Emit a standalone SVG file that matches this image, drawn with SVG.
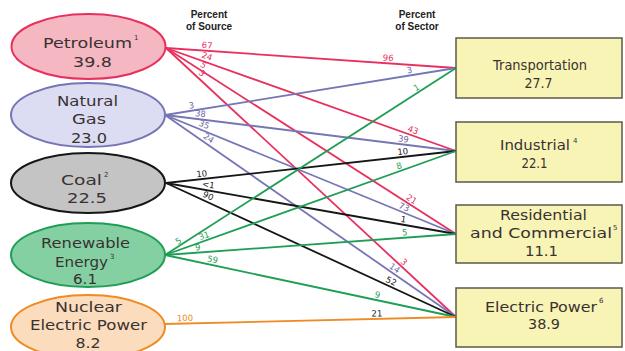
<svg xmlns="http://www.w3.org/2000/svg" width="625" height="351" viewBox="0 0 625 351">
<style>
.hdr{font-family:"Liberation Sans",Arial,sans-serif;font-weight:bold;font-size:10px;fill:#222;text-anchor:middle}
.nt{font-family:"DejaVu Sans","Liberation Sans",sans-serif;font-size:14px;fill:#3a3232;text-anchor:middle}
.sup{font-family:"DejaVu Sans","Liberation Sans",sans-serif;font-size:7px;fill:#3a3232}
.lb{font-family:"DejaVu Sans","Liberation Sans",sans-serif;font-size:8.5px;text-anchor:middle}
.ln{fill:none;stroke-width:1.8}
.red{stroke:#e8305e}.pur{stroke:#7676b6}.blk{stroke:#161616}.grn{stroke:#1f9e55}.org{stroke:#f08a24}
.tred{fill:#e8305e}.tpur{fill:#6a6aa8}.tblk{fill:#161616}.tgrn{fill:#1f9e55}.torg{fill:#f08a24}
.box{fill:#f8f4b6;stroke:#5a5a4a;stroke-width:1.5}
</style>
<rect width="625" height="351" fill="#ffffff"/>
<g id="headers">
<text class="hdr" x="209" y="18">Percent</text>
<text class="hdr" x="209" y="30">of Source</text>
<text class="hdr" x="417" y="18">Percent</text>
<text class="hdr" x="417" y="30">of Sector</text>
</g>
<g id="connectors">
<line class="ln red" x1="166" y1="48" x2="456" y2="68"/>
<line class="ln red" x1="166" y1="48" x2="456" y2="151"/>
<line class="ln red" x1="166" y1="48" x2="456" y2="234"/>
<line class="ln red" x1="166" y1="48" x2="456" y2="317"/>
<line class="ln pur" x1="165" y1="115" x2="456" y2="68"/>
<line class="ln pur" x1="165" y1="115" x2="456" y2="151"/>
<line class="ln pur" x1="165" y1="115" x2="456" y2="234"/>
<line class="ln pur" x1="165" y1="115" x2="456" y2="317"/>
<line class="ln blk" x1="166" y1="183" x2="456" y2="151"/>
<line class="ln blk" x1="166" y1="183" x2="456" y2="234"/>
<line class="ln blk" x1="166" y1="183" x2="456" y2="317"/>
<line class="ln grn" x1="165" y1="255" x2="456" y2="68"/>
<line class="ln grn" x1="165" y1="255" x2="456" y2="151"/>
<line class="ln grn" x1="165" y1="255" x2="456" y2="234"/>
<line class="ln grn" x1="165" y1="255" x2="456" y2="317"/>
<line class="ln org" x1="164" y1="324" x2="456" y2="317"/>
<text class="lb tred" transform="translate(207,48.2) rotate(4)">67</text>
<text class="lb tred" transform="translate(388,60.8) rotate(4)">96</text>
<text class="lb tred" transform="translate(206,59) rotate(19.7)">24</text>
<text class="lb tred" transform="translate(412,132.8) rotate(19.7)">43</text>
<text class="lb tred" transform="translate(202,67.5) rotate(32.9)">5</text>
<text class="lb tred" transform="translate(410,201.8) rotate(32.9)">21</text>
<text class="lb tred" transform="translate(200,75.4) rotate(43)">3</text>
<text class="lb tred" transform="translate(402,264) rotate(43)">3</text>
<text class="lb tpur" transform="translate(192,108.4) rotate(-9.2)">3</text>
<text class="lb tpur" transform="translate(410,73) rotate(-9.2)">3</text>
<text class="lb tpur" transform="translate(200,116.6) rotate(7.1)">38</text>
<text class="lb tpur" transform="translate(403,141.9) rotate(7.1)">39</text>
<text class="lb tpur" transform="translate(203,127.3) rotate(22.4)">35</text>
<text class="lb tpur" transform="translate(403,209.7) rotate(22.4)">73</text>
<text class="lb tpur" transform="translate(207,140.5) rotate(35)">24</text>
<text class="lb tpur" transform="translate(393,270.5) rotate(35)">14</text>
<text class="lb tblk" transform="translate(202,176.7) rotate(-6.3)">10</text>
<text class="lb tblk" transform="translate(403,154.4) rotate(-6.3)">10</text>
<text class="lb tblk" transform="translate(208,187.6) rotate(10)">&lt;1</text>
<text class="lb tblk" transform="translate(403,222.1) rotate(10)">1</text>
<text class="lb tblk" transform="translate(207,198.6) rotate(24.9)">90</text>
<text class="lb tblk" transform="translate(390,283.8) rotate(24.9)">52</text>
<text class="lb tgrn" transform="translate(180,243.5) rotate(-32.8)">5</text>
<text class="lb tgrn" transform="translate(418,90) rotate(-32.8)">1</text>
<text class="lb tgrn" transform="translate(205,238.5) rotate(-19.7)">31</text>
<text class="lb tgrn" transform="translate(400,168.6) rotate(-19.7)">8</text>
<text class="lb tgrn" transform="translate(198,250.2) rotate(-4.1)">9</text>
<text class="lb tgrn" transform="translate(405,235.2) rotate(-4.1)">5</text>
<text class="lb tgrn" transform="translate(212,262.3) rotate(12.1)">59</text>
<text class="lb tgrn" transform="translate(377,297.6) rotate(12.1)">9</text>
<text class="lb torg" transform="translate(185,321) rotate(-1.4)">100</text>
<text class="lb tblk" transform="translate(377,316.4) rotate(-1.4)">21</text>
</g>
<g id="petroleum">
<ellipse cx="88.5" cy="46.5" rx="77" ry="32.5" fill="#f5b8c2" stroke="#e8305e" stroke-width="2"/>
<text class="nt" x="87.5" y="48" textLength="89" lengthAdjust="spacingAndGlyphs">Petroleum</text>
<text class="sup" x="134" y="40">1</text>
<text class="nt" x="92.5" y="67" textLength="39" lengthAdjust="spacingAndGlyphs">39.8</text>
</g>
<g id="natural-gas">
<ellipse cx="88" cy="115" rx="77" ry="32" fill="#dcdcf2" stroke="#7676b6" stroke-width="2"/>
<text class="nt" x="87.5" y="106" textLength="61" lengthAdjust="spacingAndGlyphs">Natural</text>
<text class="nt" x="89" y="124" textLength="34" lengthAdjust="spacingAndGlyphs">Gas</text>
<text class="nt" x="89" y="143" textLength="36" lengthAdjust="spacingAndGlyphs">23.0</text>
</g>
<g id="coal">
<ellipse cx="88" cy="183" rx="77" ry="30" fill="#c4c4c4" stroke="#161616" stroke-width="2"/>
<text class="nt" x="81.5" y="185" textLength="41" lengthAdjust="spacingAndGlyphs">Coal</text>
<text class="sup" x="104" y="177">2</text>
<text class="nt" x="87" y="203" textLength="40" lengthAdjust="spacingAndGlyphs">22.5</text>
</g>
<g id="renewable">
<ellipse cx="88" cy="255" rx="77" ry="32" fill="#84d0a3" stroke="#1f9e55" stroke-width="2"/>
<text class="nt" x="85.5" y="248" textLength="89" lengthAdjust="spacingAndGlyphs">Renewable</text>
<text class="nt" x="81.5" y="267" textLength="53" lengthAdjust="spacingAndGlyphs">Energy</text>
<text class="sup" x="110" y="259">3</text>
<text class="nt" x="85" y="284" textLength="24" lengthAdjust="spacingAndGlyphs">6.1</text>
</g>
<g id="nuclear">
<ellipse cx="88" cy="327" rx="77" ry="32" fill="#fbdcbc" stroke="#f08a24" stroke-width="2"/>
<text class="nt" x="88.5" y="312" textLength="67" lengthAdjust="spacingAndGlyphs">Nuclear</text>
<text class="nt" x="88.5" y="330" textLength="117" lengthAdjust="spacingAndGlyphs">Electric Power</text>
<text class="nt" x="88" y="348" textLength="25" lengthAdjust="spacingAndGlyphs">8.2</text>
</g>
<g id="transportation">
<rect class="box" x="456" y="38" width="166" height="60"/>
<text class="nt" x="540" y="70" textLength="94" lengthAdjust="spacingAndGlyphs">Transportation</text>
<text class="nt" x="538.5" y="88" textLength="28" lengthAdjust="spacingAndGlyphs">27.7</text>
</g>
<g id="industrial">
<rect class="box" x="456" y="122" width="166" height="60"/>
<text class="nt" x="535" y="150" textLength="70" lengthAdjust="spacingAndGlyphs">Industrial</text>
<text class="sup" x="573" y="143">4</text>
<text class="nt" x="534.5" y="168" textLength="26" lengthAdjust="spacingAndGlyphs">22.1</text>
</g>
<g id="residential-commercial">
<rect class="box" x="456" y="205" width="166" height="58"/>
<text class="nt" x="543.5" y="220" textLength="87" lengthAdjust="spacingAndGlyphs">Residential</text>
<text class="nt" x="541" y="238" textLength="142" lengthAdjust="spacingAndGlyphs">and Commercial</text>
<text class="sup" x="613" y="230">5</text>
<text class="nt" x="541.5" y="256" textLength="33" lengthAdjust="spacingAndGlyphs">11.1</text>
</g>
<g id="electric-power">
<rect class="box" x="456" y="288" width="166" height="59"/>
<text class="nt" x="541" y="312" textLength="112" lengthAdjust="spacingAndGlyphs">Electric Power</text>
<text class="sup" x="599" y="303">6</text>
<text class="nt" x="544" y="329" textLength="32" lengthAdjust="spacingAndGlyphs">38.9</text>
</g>
</svg>
